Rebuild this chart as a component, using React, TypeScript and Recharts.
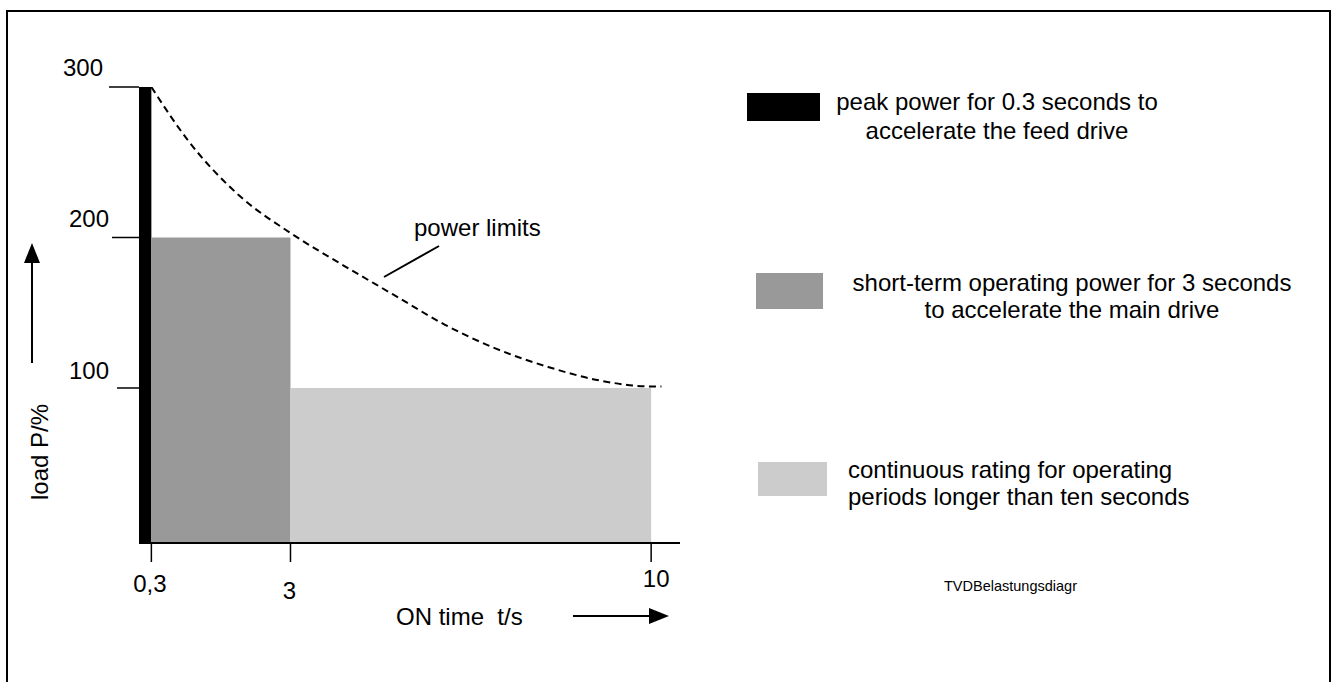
import React from "react";
import {
  ComposedChart,
  Line,
  XAxis,
  YAxis,
  ReferenceArea,
} from "recharts";

// power limit curve (dashed)
const limitTime = [0.3, 1, 2, 3, 4, 5, 6, 7, 8, 9, 10, 10.2];
const limitLoad = [300, 265, 228, 203, 182, 162, 142, 126, 114, 105, 101, 101];

// operating regions: [from t, to t, load %]
const regionNames = ["peak", "shortTerm", "continuous"];
const regionFrom = [0.06, 0.3, 3];
const regionTo = [0.3, 3, 10];
const regionLoad = [300, 200, 100];
const regionColors = ["#000000", "#999999", "#cccccc"];

const xTicks = [0.3, 3, 10];
const xTickLabels = ["0,3", "3", "10"];
const yTicks = [100, 200, 300];

const legendLines = [
  ["peak power for 0.3 seconds to", "accelerate the feed drive"],
  ["short-term operating power for 3 seconds", "to accelerate the main drive"],
  ["continuous rating for operating", "periods longer than ten seconds"],
];

const FONT = '"Liberation Sans", Arial, Helvetica, sans-serif';

const data = limitTime.map((t, i) => ({ t, p: limitLoad[i] }));

// hand-drawn look: each tick sits a little differently
const yTickLook: Record<number, { len: number; dx: number; dy: number }> = {
  300: { len: 30, dx: -36, dy: -11 },
  200: { len: 27, dx: -30, dy: -10 },
  100: { len: 22, dx: -30, dy: -9 },
};
const xTickLook = [
  { dx: -1.5, dy: 30 },
  { dx: -1, dy: 37 },
  { dx: 5, dy: 25 },
];

const YTick = (props: any) => {
  const { x, y, payload } = props;
  const look = yTickLook[payload.value] || { len: 25, dx: -30, dy: -10 };
  return (
    <g>
      <line x1={x - look.len} y1={y} x2={x} y2={y} stroke="#000" strokeWidth={1.5} />
      <text x={x + look.dx} y={y + look.dy} textAnchor="end" fontSize={24} fontFamily={FONT} fill="#000">
        {payload.value}
      </text>
    </g>
  );
};

const XTick = (props: any) => {
  const { x, y, payload, index } = props;
  const i = xTicks.indexOf(payload.value);
  const look = xTickLook[i >= 0 ? i : index] || { dx: 0, dy: 30 };
  return (
    <text x={x + look.dx} y={y + look.dy} textAnchor="middle" fontSize={24} fontFamily={FONT} fill="#000">
      {xTickLabels[i >= 0 ? i : index]}
    </text>
  );
};

const legendBoxes = [
  { x: 747, y: 93, w: 73, h: 28 },
  { x: 756, y: 273, w: 67, h: 36 },
  { x: 758, y: 462, w: 69, h: 34 },
];

const Overlay = () => (
  <svg
    width={1336}
    height={682}
    style={{ position: "absolute", left: 0, top: 0, pointerEvents: "none" }}
    fontFamily={FONT}
  >
    <rect x={7} y={11} width={1323} height={700} fill="none" stroke="#000" strokeWidth={2} />

    {/* y axis title + arrow */}
    <text transform="translate(48,452) rotate(-90)" textAnchor="middle" fontSize={24}>
      load P/%
    </text>
    <line x1={32} y1={363} x2={32} y2={260} stroke="#000" strokeWidth={2} />
    <polygon points="32,243 24,263 40,263" fill="#000" />

    {/* x axis title + arrow */}
    <text x={396} y={625} fontSize={24} xmlSpace="preserve">
      ON time  t/s
    </text>
    <line x1={573} y1={616} x2={652} y2={616} stroke="#000" strokeWidth={2} />
    <polygon points="669,616 649,608 649,624" fill="#000" />

    {/* curve annotation */}
    <text x={414} y={236} fontSize={24}>
      power limits
    </text>
    <line x1={439} y1={246} x2={384} y2={277} stroke="#000" strokeWidth={2} />

    {/* legend */}
    {legendBoxes.map((b, i) => (
      <rect key={regionNames[i]} x={b.x} y={b.y} width={b.w} height={b.h} fill={regionColors[i]} />
    ))}
    <text x={997} y={110} textAnchor="middle" fontSize={24}>
      {legendLines[0][0]}
    </text>
    <text x={997} y={139} textAnchor="middle" fontSize={24}>
      {legendLines[0][1]}
    </text>
    <text x={1072} y={291} textAnchor="middle" fontSize={24}>
      {legendLines[1][0]}
    </text>
    <text x={1072} y={318} textAnchor="middle" fontSize={24}>
      {legendLines[1][1]}
    </text>
    <text x={848} y={478} fontSize={24}>
      {legendLines[2][0]}
    </text>
    <text x={848} y={505} fontSize={24}>
      {legendLines[2][1]}
    </text>

    <text x={1077} y={591} textAnchor="end" fontSize={14.5}>
      TVDBelastungsdiagr
    </text>
  </svg>
);

export default function App() {
  return (
    <div style={{ position: "absolute", left: 0, top: 0, width: 1336, height: 682, background: "#fff" }}>
      <ComposedChart
        width={1336}
        height={682}
        data={data}
        margin={{ top: 87, right: 656, bottom: 109, left: 79 }}
      >
        <XAxis
          type="number"
          dataKey="t"
          domain={[0.06, 10.56]}
          allowDataOverflow
          ticks={xTicks}
          interval={0}
          height={30}
          tickSize={19}
          tickMargin={0}
          tick={<XTick />}
          axisLine={{ stroke: "#000", strokeWidth: 2 }}
          tickLine={{ stroke: "#000", strokeWidth: 1.5 }}
        />
        <YAxis
          type="number"
          domain={[-3, 300]}
          allowDataOverflow
          ticks={yTicks}
          interval={0}
          width={60}
          tickSize={0}
          tickMargin={0}
          axisLine={false}
          tickLine={false}
          tick={<YTick />}
        />
        {regionNames.map((name, i) => (
          <ReferenceArea
            key={name}
            x1={regionFrom[i]}
            x2={regionTo[i]}
            y1={-3}
            y2={regionLoad[i]}
            fill={regionColors[i]}
            fillOpacity={1}
            stroke="none"
            ifOverflow="visible"
          />
        ))}
        <Line
          type="monotone"
          dataKey="p"
          stroke="#000"
          strokeWidth={2}
          strokeDasharray="7 4.5"
          dot={false}
          activeDot={false}
          isAnimationActive={false}
        />
      </ComposedChart>
      <Overlay />
    </div>
  );
}
